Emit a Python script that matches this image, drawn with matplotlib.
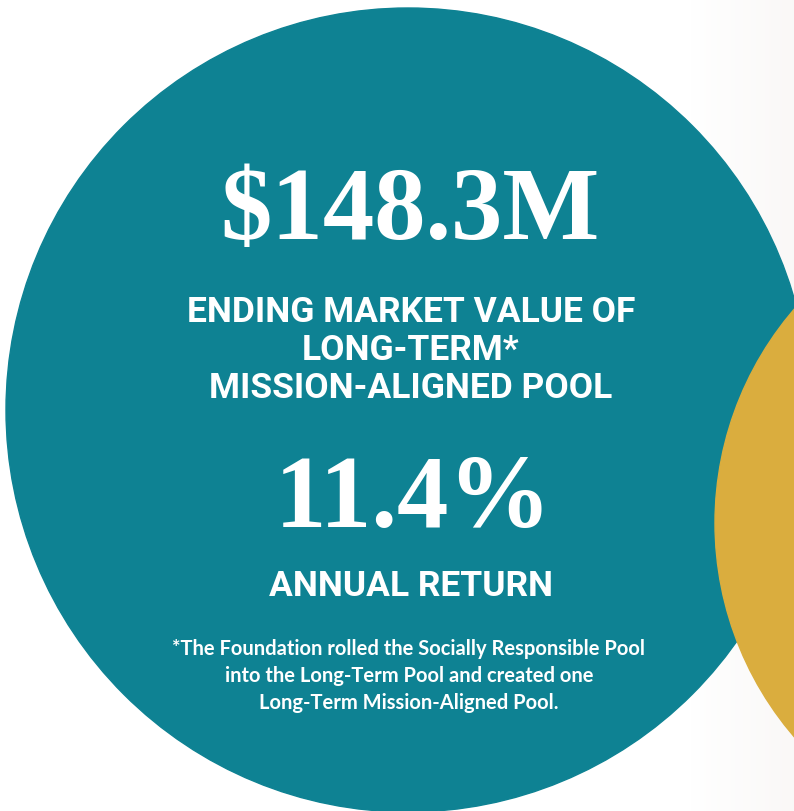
import numpy as np
import matplotlib.pyplot as plt
from matplotlib.patches import Circle

# figures shown on the graphic
headline_value = "$148.3M"
headline_label = ["ENDING MARKET VALUE OF", "LONG-TERM*", "MISSION-ALIGNED POOL"]
return_value = "11.4%"
return_label = "ANNUAL RETURN"
footnote = ["*The Foundation rolled the Socially Responsible Pool",
            "into the Long-Term Pool and created one",
            "Long-Term Mission-Aligned Pool."]

TEAL = '#0e8293'
GOLD = '#daad3e'

fig = plt.figure(figsize=(7.94, 8.11), dpi=100)
ax = fig.add_axes([0, 0, 1, 1])
ax.axis('off')

# faint off-white fade on the right edge
fade = np.linspace(0, 1, 100)[None, :, None]
band = (1 - fade) * np.array([1.0, 1.0, 1.0]) + fade * np.array([0.98, 0.973, 0.969])
ax.imshow(np.repeat(band, 2, axis=0), extent=(690, 794, 811, 0), aspect='auto', zorder=0)
ax.set_xlim(0, 794)
ax.set_ylim(811, 0)

ax.add_patch(Circle((408, 410), 402, color=TEAL, zorder=1))
ax.add_patch(Circle((1043, 523), 328, color=GOLD, zorder=2))

serif = ['Liberation Serif', 'DejaVu Serif']
cond = ['Roboto', 'DejaVu Sans']
foot = ['Lato', 'DejaVu Sans']

ax.text(410, 214, headline_value, family=serif, fontweight='bold', fontsize=74,
        color='white', ha='center', va='center', zorder=3)
for i, line in enumerate(headline_label):
    ax.text(411, 313 + i * 38, line, family=cond, fontweight='bold', fontsize=25.5,
            color='white', ha='center', va='center', zorder=3)
ax.text(413, 502, return_value, family=serif, fontweight='bold', fontsize=74,
        color='white', ha='center', va='center', zorder=3)
ax.text(411, 586, return_label, family=cond, fontweight='bold', fontsize=25.5,
        color='white', ha='center', va='center', zorder=3)
for i, line in enumerate(footnote):
    ax.text(409, 649 + i * 27, line, family=foot, fontweight='bold', fontsize=14.5,
            color='white', ha='center', va='center', zorder=3)

fig.savefig('out.png', dpi=100)
